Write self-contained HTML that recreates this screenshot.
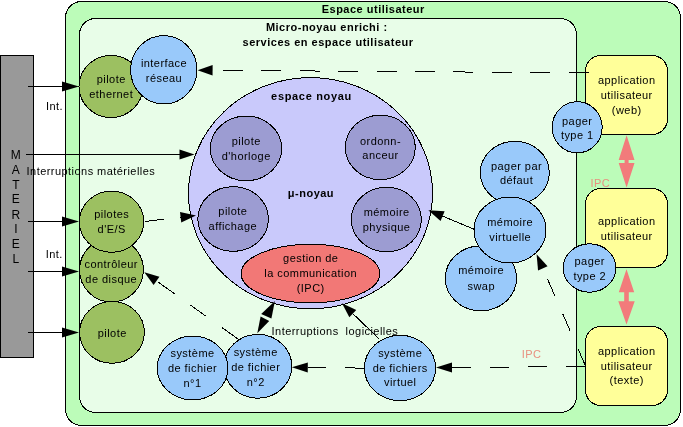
<!DOCTYPE html>
<html><head><meta charset="utf-8"><style>
html,body{margin:0;padding:0;background:#fff;width:683px;height:427px;overflow:hidden}
svg{display:block;font-family:'Liberation Sans', sans-serif;will-change:transform}
</style></head><body>
<svg width="683" height="427" viewBox="0 0 683 427">
<rect x="65.5" y="1.5" width="615" height="424" rx="16" ry="16" fill="#bcfcb9" stroke="#000" shape-rendering="crispEdges"/>
<rect x="79.5" y="18.5" width="497" height="394" rx="16" ry="16" fill="#e8fde8" stroke="#000" shape-rendering="crispEdges"/>
<rect x="0.5" y="55.5" width="33" height="302" fill="#999" stroke="#000"/>
<text x="373.25" y="12.6" text-anchor="middle" font-size="11" letter-spacing="0.5" font-weight="bold" fill="#000">Espace utilisateur</text>
<text x="326.75" y="30.6" text-anchor="middle" font-size="11" letter-spacing="0.5" font-weight="bold" fill="#000">Micro-noyau enrichi :</text>
<text x="328.05" y="46.2" text-anchor="middle" font-size="11" letter-spacing="0.5" font-weight="bold" fill="#000">services en espace utilisateur</text>
<text x="15.8" y="158.9" text-anchor="middle" font-size="12" letter-spacing="0" fill="#000">M</text>
<text x="15.8" y="173.60000000000002" text-anchor="middle" font-size="12" letter-spacing="0" fill="#000">A</text>
<text x="15.8" y="188.70000000000002" text-anchor="middle" font-size="12" letter-spacing="0" fill="#000">T</text>
<text x="15.8" y="203.4" text-anchor="middle" font-size="12" letter-spacing="0" fill="#000">E</text>
<text x="15.8" y="218.5" text-anchor="middle" font-size="12" letter-spacing="0" fill="#000">R</text>
<text x="15.8" y="233.3" text-anchor="middle" font-size="12" letter-spacing="0" fill="#000">I</text>
<text x="15.8" y="248.3" text-anchor="middle" font-size="12" letter-spacing="0" fill="#000">E</text>
<text x="15.8" y="263.1" text-anchor="middle" font-size="12" letter-spacing="0" fill="#000">L</text>
<polygon points="79.00,86.50 62.00,91.50 62.00,81.50" fill="#000"/>
<line x1="28" y1="86.5" x2="62.00" y2="86.50" stroke="#000" stroke-width="1" shape-rendering="crispEdges"/>
<polygon points="79.00,221.50 62.00,226.50 62.00,216.50" fill="#000"/>
<line x1="28" y1="221.5" x2="62.00" y2="221.50" stroke="#000" stroke-width="1" shape-rendering="crispEdges"/>
<polygon points="79.00,271.50 62.00,276.50 62.00,266.50" fill="#000"/>
<line x1="28" y1="271.5" x2="62.00" y2="271.50" stroke="#000" stroke-width="1" shape-rendering="crispEdges"/>
<polygon points="79.00,332.50 62.00,337.50 62.00,327.50" fill="#000"/>
<line x1="28" y1="332.5" x2="62.00" y2="332.50" stroke="#000" stroke-width="1" shape-rendering="crispEdges"/>
<polygon points="194.50,154.50 179.50,159.50 179.50,149.50" fill="#000"/>
<line x1="26" y1="154.5" x2="179.50" y2="154.50" stroke="#000" stroke-width="1" shape-rendering="crispEdges"/>
<text x="46" y="110.2" text-anchor="start" font-size="11" letter-spacing="0.45" fill="#000">Int.</text>
<text x="45.7" y="257.7" text-anchor="start" font-size="11" letter-spacing="0.45" fill="#000">Int.</text>
<text x="26.6" y="175.1" text-anchor="start" font-size="11" letter-spacing="0.45" fill="#000">Interruptions matérielles</text>
<ellipse cx="310.5" cy="193.2" rx="122" ry="115.6" fill="#c9c9fb" stroke="#000" stroke-width="1" shape-rendering="crispEdges"/>
<text x="311.53999999999996" y="99.6" text-anchor="middle" font-size="11" letter-spacing="0.68" font-weight="bold" fill="#000">espace noyau</text>
<text x="310.95" y="197.2" text-anchor="middle" font-size="11" letter-spacing="0.5" font-weight="bold" fill="#000">μ-noyau</text>
<ellipse cx="246" cy="148.4" rx="35.7" ry="32.35" fill="#9c9cd2" stroke="#000" stroke-width="1" shape-rendering="crispEdges"/>
<text x="246.225" y="145.1" text-anchor="middle" font-size="11" letter-spacing="0.45" fill="#000">pilote</text>
<text x="246.225" y="159.7" text-anchor="middle" font-size="11" letter-spacing="0.45" fill="#000">d'horloge</text>
<ellipse cx="380.3" cy="147.4" rx="35" ry="32.2" fill="#9c9cd2" stroke="#000" stroke-width="1" shape-rendering="crispEdges"/>
<text x="380.52500000000003" y="144.5" text-anchor="middle" font-size="11" letter-spacing="0.45" fill="#000">ordonn-</text>
<text x="380.52500000000003" y="159.0" text-anchor="middle" font-size="11" letter-spacing="0.45" fill="#000">anceur</text>
<ellipse cx="233.1" cy="219" rx="35.3" ry="32.35" fill="#9c9cd2" stroke="#000" stroke-width="1" shape-rendering="crispEdges"/>
<text x="232.825" y="214.5" text-anchor="middle" font-size="11" letter-spacing="0.45" fill="#000">pilote</text>
<text x="232.825" y="229.7" text-anchor="middle" font-size="11" letter-spacing="0.45" fill="#000">affichage</text>
<ellipse cx="386.4" cy="219.5" rx="35" ry="32.3" fill="#9c9cd2" stroke="#000" stroke-width="1" shape-rendering="crispEdges"/>
<text x="386.625" y="216.3" text-anchor="middle" font-size="11" letter-spacing="0.45" fill="#000">mémoire</text>
<text x="386.625" y="231.0" text-anchor="middle" font-size="11" letter-spacing="0.45" fill="#000">physique</text>
<ellipse cx="310.5" cy="273.6" rx="69.4" ry="29.3" fill="#f27876" stroke="#000" stroke-width="1" shape-rendering="crispEdges"/>
<text x="310.725" y="262.0" text-anchor="middle" font-size="11" letter-spacing="0.45" fill="#000">gestion de</text>
<text x="310.725" y="276.5" text-anchor="middle" font-size="11" letter-spacing="0.45" fill="#000">la communication</text>
<text x="310.725" y="292.0" text-anchor="middle" font-size="11" letter-spacing="0.45" fill="#000">(IPC)</text>
<ellipse cx="111" cy="86.5" rx="32" ry="31" fill="#9cc061" stroke="#000" stroke-width="1" shape-rendering="crispEdges"/>
<text x="111.225" y="82.9" text-anchor="middle" font-size="11" letter-spacing="0.45" fill="#000">pilote</text>
<text x="111.225" y="98.1" text-anchor="middle" font-size="11" letter-spacing="0.45" fill="#000">ethernet</text>
<ellipse cx="163.8" cy="69.8" rx="33.2" ry="34.2" fill="#99c9fa" stroke="#000" stroke-width="1" shape-rendering="crispEdges"/>
<text x="164.025" y="66.9" text-anchor="middle" font-size="11" letter-spacing="0.45" fill="#000">interface</text>
<text x="164.025" y="82.2" text-anchor="middle" font-size="11" letter-spacing="0.45" fill="#000">réseau</text>
<ellipse cx="111.5" cy="270" rx="31.9" ry="32" fill="#9cc061" stroke="#000" stroke-width="1" shape-rendering="crispEdges"/>
<text x="111.225" y="268.0" text-anchor="middle" font-size="11" letter-spacing="0.45" fill="#000">contrôleur</text>
<text x="111.225" y="282.7" text-anchor="middle" font-size="11" letter-spacing="0.45" fill="#000">de disque</text>
<ellipse cx="111.6" cy="221.7" rx="32.2" ry="30.6" fill="#9cc061" stroke="#000" stroke-width="1" shape-rendering="crispEdges"/>
<text x="111.725" y="218.2" text-anchor="middle" font-size="11" letter-spacing="0.45" fill="#000">pilotes</text>
<text x="111.725" y="232.8" text-anchor="middle" font-size="11" letter-spacing="0.45" fill="#000">d'E/S</text>
<ellipse cx="112" cy="332.4" rx="32.4" ry="30.9" fill="#9cc061" stroke="#000" stroke-width="1" shape-rendering="crispEdges"/>
<text x="112.225" y="337.0" text-anchor="middle" font-size="11" letter-spacing="0.45" fill="#000">pilote</text>
<ellipse cx="257.9" cy="366.3" rx="33.9" ry="31.9" fill="#99c9fa" stroke="#000" stroke-width="1" shape-rendering="crispEdges"/>
<text x="255.725" y="356.3" text-anchor="middle" font-size="11" letter-spacing="0.45" fill="#000">système</text>
<text x="255.725" y="371.0" text-anchor="middle" font-size="11" letter-spacing="0.45" fill="#000">de fichier</text>
<text x="255.725" y="386.0" text-anchor="middle" font-size="11" letter-spacing="0.45" fill="#000">n°2</text>
<ellipse cx="192.6" cy="368" rx="35.4" ry="31.9" fill="#99c9fa" stroke="#000" stroke-width="1" shape-rendering="crispEdges"/>
<text x="192.525" y="357.1" text-anchor="middle" font-size="11" letter-spacing="0.45" fill="#000">système</text>
<text x="192.525" y="371.8" text-anchor="middle" font-size="11" letter-spacing="0.45" fill="#000">de fichier</text>
<text x="192.525" y="386.5" text-anchor="middle" font-size="11" letter-spacing="0.45" fill="#000">n°1</text>
<ellipse cx="400" cy="368" rx="35.6" ry="32.7" fill="#99c9fa" stroke="#000" stroke-width="1" shape-rendering="crispEdges"/>
<text x="400.225" y="357.3" text-anchor="middle" font-size="11" letter-spacing="0.45" fill="#000">système</text>
<text x="400.225" y="372.0" text-anchor="middle" font-size="11" letter-spacing="0.45" fill="#000">de fichiers</text>
<text x="400.225" y="386.4" text-anchor="middle" font-size="11" letter-spacing="0.45" fill="#000">virtuel</text>
<ellipse cx="514.85" cy="172.8" rx="34.5" ry="31.5" fill="#99c9fa" stroke="#000" stroke-width="1" shape-rendering="crispEdges"/>
<text x="516.525" y="169.7" text-anchor="middle" font-size="11" letter-spacing="0.45" fill="#000">pager par</text>
<text x="516.525" y="184.3" text-anchor="middle" font-size="11" letter-spacing="0.45" fill="#000">défaut</text>
<ellipse cx="480.9" cy="278.3" rx="35.6" ry="32.5" fill="#99c9fa" stroke="#000" stroke-width="1" shape-rendering="crispEdges"/>
<text x="481.225" y="274.4" text-anchor="middle" font-size="11" letter-spacing="0.45" fill="#000">mémoire</text>
<text x="481.225" y="289.5" text-anchor="middle" font-size="11" letter-spacing="0.45" fill="#000">swap</text>
<ellipse cx="510" cy="230" rx="36" ry="33" fill="#99c9fa" stroke="#000" stroke-width="1" shape-rendering="crispEdges"/>
<text x="510.225" y="225.8" text-anchor="middle" font-size="11" letter-spacing="0.45" fill="#000">mémoire</text>
<text x="510.225" y="240.9" text-anchor="middle" font-size="11" letter-spacing="0.45" fill="#000">virtuelle</text>
<rect x="585.5" y="55.5" width="82" height="79.0" rx="15.5" ry="15.5" fill="#ffff99" stroke="#000" shape-rendering="crispEdges"/>
<text x="626.725" y="84.1" text-anchor="middle" font-size="11" letter-spacing="0.45" fill="#000">application</text>
<text x="626.725" y="98.9" text-anchor="middle" font-size="11" letter-spacing="0.45" fill="#000">utilisateur</text>
<text x="626.725" y="114.3" text-anchor="middle" font-size="11" letter-spacing="0.45" fill="#000">(web)</text>
<rect x="585.5" y="188.5" width="82" height="79.0" rx="15.5" ry="15.5" fill="#ffff99" stroke="#000" shape-rendering="crispEdges"/>
<text x="626.725" y="225.0" text-anchor="middle" font-size="11" letter-spacing="0.45" fill="#000">application</text>
<text x="626.725" y="239.5" text-anchor="middle" font-size="11" letter-spacing="0.45" fill="#000">utilisateur</text>
<rect x="585.5" y="326.5" width="82" height="79.0" rx="15.5" ry="15.5" fill="#ffff99" stroke="#000" shape-rendering="crispEdges"/>
<text x="626.725" y="354.9" text-anchor="middle" font-size="11" letter-spacing="0.45" fill="#000">application</text>
<text x="626.725" y="369.5" text-anchor="middle" font-size="11" letter-spacing="0.45" fill="#000">utilisateur</text>
<text x="626.725" y="384.4" text-anchor="middle" font-size="11" letter-spacing="0.45" fill="#000">(texte)</text>
<ellipse cx="577.2" cy="127.3" rx="25" ry="25.6" fill="#99c9fa" stroke="#000" stroke-width="1" shape-rendering="crispEdges"/>
<text x="577.225" y="124.5" text-anchor="middle" font-size="11" letter-spacing="0.45" fill="#000">pager</text>
<text x="577.225" y="138.5" text-anchor="middle" font-size="11" letter-spacing="0.45" fill="#000">type 1</text>
<ellipse cx="589.5" cy="268" rx="26.3" ry="24.2" fill="#99c9fa" stroke="#000" stroke-width="1" shape-rendering="crispEdges"/>
<text x="589.725" y="265.4" text-anchor="middle" font-size="11" letter-spacing="0.45" fill="#000">pager</text>
<text x="589.725" y="280.2" text-anchor="middle" font-size="11" letter-spacing="0.45" fill="#000">type 2</text>
<polygon points="626.6,135.2 634.5,160 628.6,160 628.6,163 634.5,163 626.6,187.6 618.7,163 624.6,163 624.6,160 618.7,160" fill="#f27b7b"/>
<polygon points="626.5,269.2 634.2,292.2 628.8,292.2 628.8,301.2 634.7,301.2 626.5,324.6 618.3,301.2 624.2,301.2 624.2,292.2 618.8,292.2" fill="#f27b7b"/>
<text x="600.225" y="187" text-anchor="middle" font-size="11" letter-spacing="0.45" fill="#e8907f">IPC</text>
<text x="531.525" y="357.7" text-anchor="middle" font-size="11" letter-spacing="0.45" fill="#e8907f">IPC</text>
<polygon points="197.60,70.21 212.64,65.01 212.56,75.61" fill="#000"/>
<line x1="589" y1="72.85" x2="212.60" y2="70.31" stroke="#000" stroke-width="1" shape-rendering="crispEdges" stroke-dasharray="20 18.5" stroke-dashoffset="0"/>
<polygon points="196.00,215.40 181.22,222.39 180.00,212.06" fill="#000"/>
<line x1="144.6" y1="221.5" x2="180.61" y2="217.23" stroke="#000" stroke-width="1" shape-rendering="crispEdges" stroke-dasharray="20 16" stroke-dashoffset="0"/>
<polygon points="144.30,272.20 159.42,276.84 153.61,284.98" fill="#000"/>
<line x1="238" y1="339" x2="156.51" y2="280.91" stroke="#000" stroke-width="1" shape-rendering="crispEdges" stroke-dasharray="20 19" stroke-dashoffset="0"/>
<polygon points="274.9,301.1 261.2,314 271.4,318.6" fill="#000"/>
<polygon points="257.3,333.3 260.6,316.4 269.2,321" fill="#000"/>
<polygon points="342.00,303.20 356.27,310.00 349.34,317.21" fill="#000"/>
<line x1="379.6" y1="339.4" x2="352.81" y2="313.60" stroke="#000" stroke-width="1" shape-rendering="crispEdges"/>
<polygon points="436.00,367.55 451.97,362.44 452.03,372.44" fill="#000"/>
<line x1="585.6" y1="366.55" x2="452.00" y2="367.44" stroke="#000" stroke-width="1" shape-rendering="crispEdges" stroke-dasharray="19.6 18.6" stroke-dashoffset="0"/>
<polygon points="291.80,367.30 307.85,362.48 307.74,372.48" fill="#000"/>
<line x1="364.6" y1="368.11" x2="307.80" y2="367.48" stroke="#000" stroke-width="1" shape-rendering="crispEdges" stroke-dasharray="19.2 19.3" stroke-dashoffset="0"/>
<polygon points="428.30,210.20 444.65,211.26 440.57,221.05" fill="#000"/>
<line x1="474.2" y1="229.3" x2="442.61" y2="216.15" stroke="#000" stroke-width="1" shape-rendering="crispEdges"/>
<polygon points="536.60,254.20 547.58,266.31 538.05,270.48" fill="#000"/>
<line x1="585.2" y1="365.2" x2="542.82" y2="268.40" stroke="#000" stroke-width="1" shape-rendering="crispEdges" stroke-dasharray="18.2 19.8" stroke-dashoffset="0"/>
<text x="271.6" y="335.0" text-anchor="start" font-size="11" letter-spacing="0.45" fill="#000">Interruptions&#160;&#160;logicielles</text>
</svg>
</body></html>
